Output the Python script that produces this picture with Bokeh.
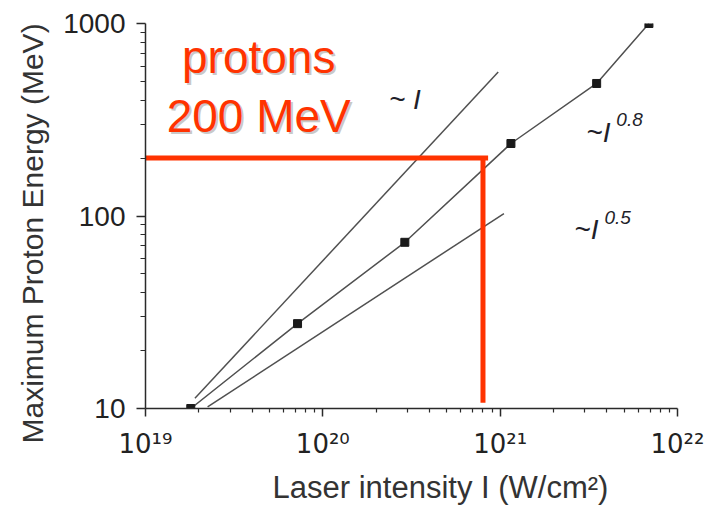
from bokeh.plotting import figure
from bokeh.models import Label, FixedTicker, BasicTickFormatter, Title
from bokeh.embed import file_html
from bokeh.resources import INLINE

# ---- data ----
intensity = [1.8e19, 7.2e19, 2.9e20, 1.15e21, 3.5e21, 6.9e21]
energy = [10, 27.6, 73, 238, 488, 1000]

lin_x = [1.9e19, 9.75e20]      # ~ I
lin_y = [11.3, 560]
half_x = [2.24e19, 1.05e21]    # ~ I^0.5
half_y = [10.2, 103]

target_h_x = [1e19, 8.55e20]   # red horizontal marker at 200 MeV
target_h_y = [200, 200]
target_v_x = [8.0e20, 8.0e20]  # red vertical marker
target_v_y = [200, 10.7]

x_ticks = [1e19, 1e20, 1e21, 1e22]
x_tick_labels = ["10¹⁹", "10²⁰", "10²¹", "10²²"]
y_ticks = [10, 100, 1000]
y_tick_labels = ["10", "100", "1000"]
minor_mults = [2, 3, 4, 5, 6, 7, 8, 9]

x_title = "Laser intensity I (W/cm²)"
y_title = "Maximum Proton Energy (MeV)"

FONT = "Liberation Sans"
RED = "#ff3300"
INK = "#222222"

p = figure(width=704, height=512, x_axis_type="log", y_axis_type="log",
           x_range=(1e19, 1e22), y_range=(10, 1000),
           output_backend="svg", toolbar_location=None,
           min_border_left=145, min_border_right=27,
           min_border_top=23, min_border_bottom=104)
p.outline_line_color = None
p.xgrid.visible = False
p.ygrid.visible = False
p.background_fill_color = "white"
p.border_fill_color = "white"

x_minor = [m * t for t in x_ticks[:-1] for m in minor_mults]
y_minor = [m * t for t in y_ticks[:-1] for m in minor_mults]
p.xaxis.ticker = FixedTicker(ticks=x_ticks, minor_ticks=x_minor)
p.yaxis.ticker = FixedTicker(ticks=y_ticks, minor_ticks=y_minor)

for ax in (p.xaxis[0], p.yaxis[0]):
    ax.axis_line_color = "#2a2a2a"
    ax.axis_line_width = 1.5
    ax.major_tick_line_color = "#2a2a2a"
    ax.minor_tick_line_color = "#2a2a2a"
    ax.major_tick_line_width = 1.5
    ax.minor_tick_line_width = 1.2
    ax.major_tick_in = 0
    ax.minor_tick_in = 0
    ax.formatter = BasicTickFormatter()
    ax.major_label_text_color = INK

p.yaxis.major_tick_out = 9
p.yaxis.minor_tick_out = 5
p.xaxis.major_tick_out = 8
p.xaxis.minor_tick_out = 4

p.yaxis.major_label_overrides = {t: s for t, s in zip(y_ticks, y_tick_labels)}
p.yaxis.major_label_text_font = FONT
p.yaxis.major_label_text_font_size = "28px"
p.yaxis.major_label_standoff = 11

p.xaxis.major_label_overrides = {t: s for t, s in zip(x_ticks, x_tick_labels)}
p.xaxis.major_label_text_font = "DejaVu Sans"
p.xaxis.major_label_text_font_size = "26px"
p.xaxis.major_label_standoff = 12

# axis titles as Title annotations so they can be shifted like the reference
p.add_layout(Title(text=y_title, align="left", offset=-35, standoff=24,
                   text_font=FONT, text_font_style="normal",
                   text_font_size="30px", text_color="#333333"), "left")
p.add_layout(Title(text=x_title, align="left", offset=127, standoff=13,
                   text_font=FONT, text_font_style="normal",
                   text_font_size="31px", text_color="#333333"), "below")

# power-law guide lines and data
p.line(lin_x, lin_y, line_color="#505050", line_width=1.5)
p.line(half_x, half_y, line_color="#505050", line_width=1.5)
p.line(intensity, energy, line_color="#505050", line_width=1.5)
p.scatter(intensity, energy, marker="square", size=8, fill_color="#1a1a1a",
          line_color="#1a1a1a")

# red 200 MeV marker lines
p.line(target_h_x, target_h_y, line_color=RED, line_width=5)
p.line(target_v_x, target_v_y, line_color=RED, line_width=5)

# red annotation with soft shadow
for txt, lx, ly in [("protons", 4.35e19, 537), ("200 MeV", 4.35e19, 268)]:
    p.add_layout(Label(x=lx, y=ly, text=txt, x_offset=2, y_offset=18 - 2,
                       text_align="center", text_baseline="alphabetic",
                       text_font=FONT, text_font_size="46px",
                       text_color="#bbbbbb", text_alpha=0.8))
    p.add_layout(Label(x=lx, y=ly, text=txt, y_offset=18,
                       text_align="center", text_baseline="alphabetic",
                       text_font=FONT, text_font_size="46px", text_color=RED))

# scaling annotations
ann = [("~ I", 2.36e20, 353, 28),
       ("~I", 3.06e21, 238, 28),
       ("0.8", 4.52e21, 288, 19),
       ("~I", 2.62e21, 74.6, 28),
       ("0.5", 3.87e21, 89.3, 19)]
for txt, ax_, ay_, sz in ann:
    p.add_layout(Label(x=ax_, y=ay_, text=txt, y_offset=round(0.4 * sz),
                       text_align="left", text_baseline="alphabetic",
                       text_font=FONT, text_font_style="italic",
                       text_font_size=f"{sz}px", text_color="#1f1f2a"))

open("out.html", "w").write(file_html(p, INLINE))
